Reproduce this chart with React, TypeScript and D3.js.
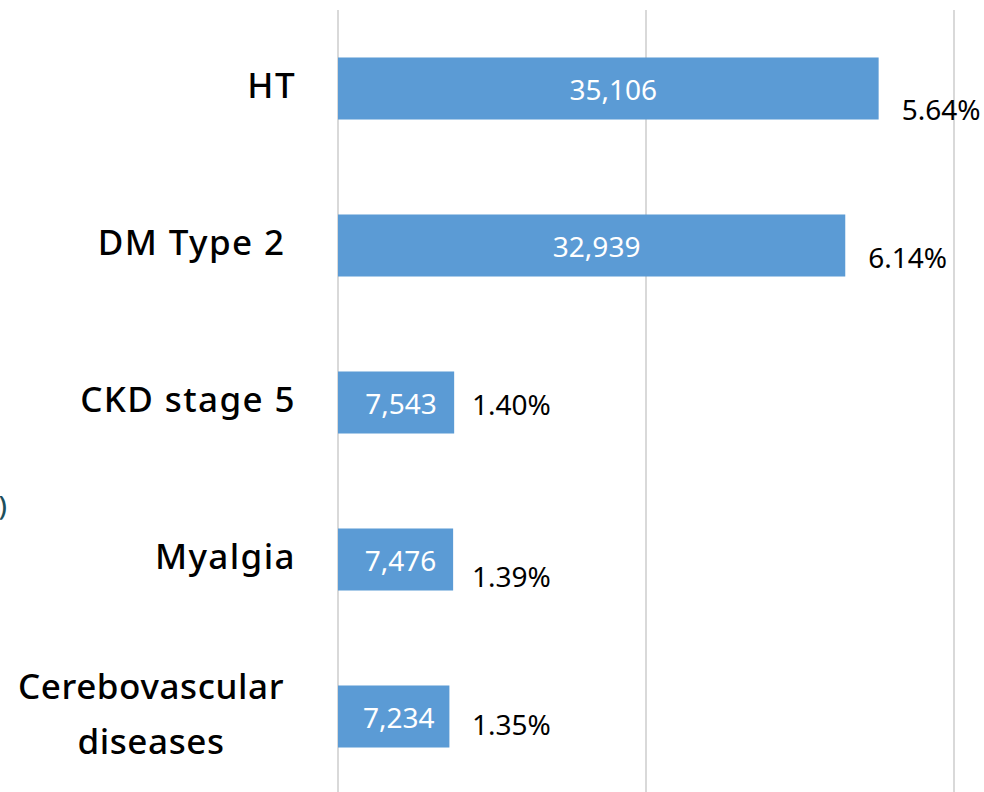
import * as React from "react";
import * as d3 from "d3";

const categories = ["HT", "DM Type 2 ", "CKD stage 5", "Myalgia", "Cerebovascular diseases"];
const patientCounts = [35106, 32939, 7543, 7476, 7234];
const percentLabels = ["5.64%", "6.14%", "1.40%", "1.39%", "1.35%"];
const gridTicks = [0, 20000, 40000];

// hand placed label nudges (px below band centre), like the source workbook
const pctNudge = [31, 22, 12, 27, 18];

const W = 984;
const H = 792;

const App: React.FunctionComponent = () => {
  const ref = React.useRef<SVGSVGElement>(null);

  React.useEffect(() => {
    document.body.style.margin = "0";
    const svg = d3.select(ref.current);
    svg.selectAll("*").remove();

    const x = d3.scaleLinear().domain([0, 40000]).range([338, 954]);
    const y = d3
      .scaleBand<string>()
      .domain(categories)
      .range([10, 795])
      .paddingInner(0.605)
      .paddingOuter(0.3025);

    const font = "'Noto Sans', 'Open Sans', sans-serif";

    svg
      .append("g")
      .selectAll("line")
      .data(gridTicks)
      .enter()
      .append("line")
      .attr("x1", d => x(d))
      .attr("x2", d => x(d))
      .attr("y1", 10)
      .attr("y2", H)
      .attr("stroke", "#d9d9d9")
      .attr("stroke-width", 2);

    const rows = svg
      .append("g")
      .selectAll("g")
      .data(categories)
      .enter()
      .append("g");

    rows
      .append("rect")
      .attr("x", x(0))
      .attr("y", d => y(d)!)
      .attr("width", (d, i) => x(patientCounts[i]) - x(0))
      .attr("height", y.bandwidth())
      .attr("fill", "#5b9bd5");

    rows
      .append("text")
      .attr("x", (d, i) => (x(0) + x(patientCounts[i])) / 2 + 5)
      .attr("y", d => y(d)! + y.bandwidth() / 2 + 11)
      .attr("text-anchor", "middle")
      .attr("fill", "#ffffff")
      .attr("font-family", font)
      .attr("font-size", 28)
      .attr("font-weight", 400)
      .text((d, i) => d3.format(",")(patientCounts[i]));

    rows
      .append("text")
      .attr("x", (d, i) => {
        const end = x(patientCounts[i]);
        return end > 500 ? end + 23 : 472;
      })
      .attr("y", (d, i) => y(d)! + y.bandwidth() / 2 + pctNudge[i])
      .attr("fill", "#000000")
      .attr("font-family", font)
      .attr("font-size", 28)
      .text((d, i) => percentLabels[i]);

    // category labels, wrapped ones centred like Excel does
    rows.each(function (d) {
      const g = d3.select(this);
      const lines = d.length > 16 ? ["Cerebovascular", "diseases"] : [d];
      const cy = y(d)! + y.bandwidth() / 2 + 9.5;
      const multi = lines.length > 1;
      lines.forEach((ln, j) => {
        g.append("text")
          .attr("x", multi ? 151 : 296)
          .attr("y", cy + (j - (lines.length - 1) / 2) * 55)
          .attr("text-anchor", multi ? "middle" : "end")
          .attr("fill", "#000000")
          .attr("font-family", font)
          .attr("font-size", 35)
          .attr("font-weight", 500)
          .attr("letter-spacing", multi ? 0.6 : 1.4)
          .attr("xml:space", "preserve")
          .style("white-space", "pre")
          .text(ln);
      });
    });

    // cut-off text at the left edge of the original slide
    svg
      .append("text")
      .attr("x", 7)
      .attr("y", 516)
      .attr("text-anchor", "end")
      .attr("fill", "#1d4f5c")
      .attr("font-family", font)
      .attr("font-size", 27)
      .attr("font-weight", 500)
      .text(")");
  }, []);

  return (
    <svg
      ref={ref}
      width={W}
      height={H}
      style={{ display: "block", background: "#ffffff" }}
    />
  );
};

export default App;
